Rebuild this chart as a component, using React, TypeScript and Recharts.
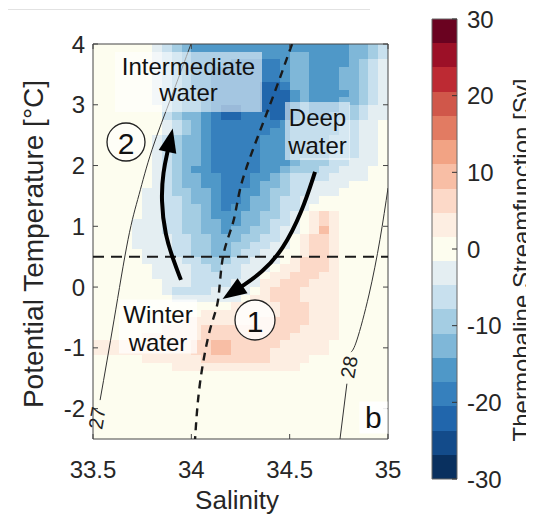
import React from "react";
import {
    ComposedChart,
    Line,
    XAxis,
    YAxis,
    ReferenceArea,
    ReferenceLine,
    ReferenceDot,
} from "recharts";

const FONT = '"Liberation Sans", Arial, Helvetica, sans-serif';
const AXIS_GREY = "#262626";

// streamfunction bands [Sv], 19 levels between -30 and 30
const LEVEL_EDGES = [
    -30, -26.84, -23.68, -20.53, -17.37, -14.21, -11.05, -7.89, -4.74, -1.58,
    1.58, 4.74, 7.89, 11.05, 14.21, 17.37, 20.53, 23.68, 26.84, 30,
];
const LEVEL_COLORS = [
    "#09305f", "#134b8a", "#2166ac", "#3680bd", "#4f98c8", "#7fb7d8", "#a4cde3",
    "#c8e0ee", "#e4eef2", "#fdfdef", "#fdeee2", "#fcd9c8", "#f8bea5", "#f2a384",
    "#e27b62", "#d0574a", "#bd2a33", "#9c1027", "#6a0220",
];
const CBAR_TICKS = [-30, -20, -10, 0, 10, 20, 30];

const X_TICKS = [33.5, 34, 34.5, 35];
const Y_TICKS = [-2, -1, 0, 1, 2, 3, 4];

// gridded field: salinity 33.5 -> 35 in 0.05 steps (columns),
// temperature 4 -> down in 0.125 steps (rows). rows below the last one are all neutral.
const SAL_START = 33.5;
const SAL_STEP = 0.05;
const TEMP_TOP = 4;
const TEMP_STEP = 0.125;
// '.' neutral band, a..g negative bands (light -> dark), A..C positive bands
const CODES: Record<string, number> = {
    ".": 9, a: 8, b: 7, c: 6, d: 5, e: 4, f: 3, g: 2, A: 10, B: 11, C: 12,
};
const FIELD = [
    "......abcdeeeeeeeeeeeeeeeeddcb",
    "......abcdeeeeeeeeeeddeeeeddcb",
    "......abcdeeeefffffeddeeeedcba",
    "......abcdeefffffffeddeeeddcba",
    "......abcdeefffffffeddeeeddcba",
    "......abcdeefffffggfddeeeddcba",
    "......abcddefffffgggedeeeedcba",
    "......abcddefffffgggedeeeddcba",
    ".......bcddefggffgggedeeedcbaa",
    ".......bcddefggfffggedeeddcbaa",
    ".......abcdefffffffedddddcbaa.",
    ".......abcdeffffffeedddddcbaa.",
    "......abcddefffffeeeddddccbaa.",
    "......abcddefffffeeeddddccbaa.",
    "......abcddefffffeeeddddccbaa.",
    "......abcddefffffeeedcccbbaaa.",
    "......abcdeefffffeedcccbbaaa..",
    "......abcddeefffeedcbbbbaaaa..",
    "......abcddeefffeddcbbaaaa....",
    ".....aabccddeffeedccbbaaa.....",
    ".....aabbcddeffeddcbbaa.......",
    ".....aabbccdefeeddcbba........",
    ".....aabbccdeeeddccba.ABA.....",
    "....aaabbccddeeddcbba.ABA.....",
    "....aaabbccddeddccbaa.ACA.....",
    "....aaaabbccdddccbba.ABBA.....",
    "....aaaabbccddccbbaa.ABBA.....",
    ".....aaabbccddcbbaa..ABBA.....",
    ".....aaaabbcccbbaaa.ABBBA.....",
    "......aaaabbcbbaaa.AABBBA.....",
    "......aaaabbbbbaa.AABBBAA.....",
    ".......aaabbbbaaaAABBBAAA.....",
    ".......abbbbaaaa.ABBBAAAA.....",
    "........aaaaaaa.AABBBAAAA.....",
    "..............AAAAABBBAAA.....",
    "...........AAAAAAAABBBAAA.....",
    ".........AAAAAAAABBBBBAAA.....",
    ".......AAAABBBBBBBBBBAAAA.....",
    ".....AAAAAABBBBBBBBBAAAAA.....",
    "AAAAAAAAAABBCCBBBBBAAAAA......",
    "AAAAAAAAAABBCCBBBBAAAAAA......",
    ".....AAAAAABBBBBBBAAAA........",
    "........AAAAAAAAAAAAA.........",
];

type Pt = { s: number; t: number };

// isopycnals 27 and 28
const ISO_27: Pt[] = [
    { s: 33.998, t: 4.0 },
    { s: 33.902, t: 3.16 },
    { s: 33.8, t: 2.26 },
    { s: 33.734, t: 1.52 },
    { s: 33.678, t: 0.78 },
    { s: 33.607, t: -0.54 },
    { s: 33.536, t: -1.86 },
];
const ISO_28_UPPER: Pt[] = [
    { s: 35.0, t: 1.63 },
    { s: 34.959, t: 0.78 },
    { s: 34.903, t: -0.13 },
    { s: 34.842, t: -0.87 },
    { s: 34.812, t: -1.07 },
];
const ISO_28_LOWER: Pt[] = [
    { s: 34.791, t: -1.59 },
    { s: 34.756, t: -2.5 },
];
// dashed salinity front
const FRONT: Pt[] = [
    { s: 34.512, t: 4.0 },
    { s: 34.415, t: 3.13 },
    { s: 34.313, t: 2.26 },
    { s: 34.247, t: 1.6 },
    { s: 34.212, t: 1.06 },
    { s: 34.161, t: 0.5 },
    { s: 34.136, t: -0.21 },
    { s: 34.095, t: -0.7 },
    { s: 34.044, t: -1.58 },
    { s: 34.019, t: -2.5 },
];
const T_REF = 0.5;

// pathways
const ARROW_DEEP: Pt[] = [
    { s: 34.629, t: 1.895 },
    { s: 34.563, t: 1.237 },
    { s: 34.466, t: 0.612 },
    { s: 34.359, t: 0.234 },
    { s: 34.252, t: 0.003 },
];
const ARROW_UP: Pt[] = [
    { s: 33.947, t: 0.118 },
    { s: 33.912, t: 0.414 },
    { s: 33.866, t: 0.859 },
    { s: 33.846, t: 1.434 },
    { s: 33.856, t: 1.895 },
    { s: 33.881, t: 2.257 },
];

// chart geometry
const W = 400;
const H = 511;
const M = { top: 36, right: 20, bottom: 40, left: 35 };
const Y_AXIS_W = 50;
const X_AXIS_H = 40;
const PLOT_W = W - M.left - M.right - Y_AXIS_W;
const PLOT_H = H - M.top - M.bottom - X_AXIS_H;
const PX_S = PLOT_W / 1.5;
const PX_T = PLOT_H / 6.5;

type Cell = { s1: number; s2: number; t1: number; t2: number; band: number };

function buildCells(): Cell[] {
    const cells: Cell[] = [];
    FIELD.forEach((row, j) => {
        const tTop = TEMP_TOP - j * TEMP_STEP;
        let i = 0;
        while (i < row.length) {
            let k = i;
            while (k + 1 < row.length && row[k + 1] === row[i]) k++;
            const band = CODES[row[i]];
            if (band !== 9) {
                cells.push({
                    s1: SAL_START + i * SAL_STEP,
                    s2: SAL_START + (k + 1) * SAL_STEP,
                    t1: tTop - TEMP_STEP,
                    t2: tTop,
                    band,
                });
            }
            i = k + 1;
        }
    });
    return cells;
}

const crispRect = (fill: string) => (p: any) => (
    <rect
        x={p.x}
        y={p.y}
        width={p.width}
        height={p.height}
        fill={fill}
        stroke="none"
        shapeRendering="crispEdges"
    />
);

function arrowHead(data: Pt[]) {
    return (props: any) => {
        const { cx, cy, index } = props;
        if (index !== data.length - 1 || cx == null) return <g key={`ah-${index}`} />;
        const a = data[data.length - 2];
        const b = data[data.length - 1];
        const dx = (b.s - a.s) * PX_S;
        const dy = -(b.t - a.t) * PX_T;
        const len = Math.hypot(dx, dy) || 1;
        const ux = dx / len;
        const uy = dy / len;
        const L = 22;
        const hw = 9;
        const bx = cx - ux * 2;
        const by = cy - uy * 2;
        return (
            <path
                key={`ah-${index}`}
                d={`M${cx + ux * L},${cy + uy * L} L${bx - uy * hw},${by + ux * hw} L${bx + uy * hw},${by - ux * hw} Z`}
                fill="#000"
            />
        );
    };
}

const textBox =
    (lines: string[], w: number, h: number, opacity: number, size: number, gap: number, dy = 0) =>
    (p: any) => {
        const { cx, cy } = p;
        return (
            <g>
                <rect x={cx - w / 2} y={cy - h / 2} width={w} height={h} fill="#fff" fillOpacity={opacity} />
                {lines.map((ln, i) => (
                    <text
                        key={i}
                        x={cx}
                        y={cy + dy + (i - (lines.length - 1) / 2) * gap}
                        textAnchor="middle"
                        dominantBaseline="central"
                        fontSize={size}
                        fontFamily={FONT}
                        fill="#111"
                    >
                        {ln}
                    </text>
                ))}
            </g>
        );
    };

const circled = (label: string, r: number, opacity: number) => (p: any) => (
    <g>
        <circle cx={p.cx} cy={p.cy} r={r} fill="#fff" fillOpacity={opacity} stroke="#222" strokeWidth={1.3} />
        <text
            x={p.cx}
            y={p.cy + 1}
            textAnchor="middle"
            dominantBaseline="central"
            fontSize={30}
            fontFamily={FONT}
            fill="#111"
        >
            {label}
        </text>
    </g>
);

const rotatedText = (label: string, size: number) => (p: any) => (
    <text
        x={p.cx}
        y={p.cy}
        transform={`rotate(-80 ${p.cx} ${p.cy})`}
        textAnchor="middle"
        dominantBaseline="central"
        fontSize={size}
        fontFamily={FONT}
        fill="#222"
    >
        {label}
    </text>
);

const AxisTitle = ({ px, py, text, vertical, size }: any) => (
    <text
        x={px}
        y={py}
        transform={vertical ? `rotate(-90 ${px} ${py})` : undefined}
        textAnchor="middle"
        dominantBaseline="central"
        fontSize={size}
        fontFamily={FONT}
        fill={AXIS_GREY}
    >
        {text}
    </text>
);

const tickStyle = { fontSize: 24, fill: AXIS_GREY, fontFamily: FONT };

function MainChart() {
    const cells = buildCells();
    const xTickLen = 5 / PX_T;
    const yTickLen = 5 / PX_S;
    return (
        <ComposedChart width={W} height={H} margin={M}>
            <XAxis
                type="number"
                dataKey="s"
                domain={[33.5, 35]}
                ticks={X_TICKS}
                interval={0}
                allowDataOverflow
                height={X_AXIS_H}
                tickLine={false}
                axisLine={false}
                tickSize={6}
                tickMargin={16}
                tick={tickStyle}
                label={<AxisTitle px={229} py={492} text="Salinity" size={26} />}
            />
            <YAxis
                type="number"
                dataKey="t"
                domain={[-2.5, 4]}
                ticks={Y_TICKS}
                interval={0}
                allowDataOverflow
                width={Y_AXIS_W}
                tickLine={false}
                axisLine={false}
                tickSize={6}
                tickMargin={2}
                tick={tickStyle}
                label={<AxisTitle px={25} py={236} text="Potential Temperature [°C]" vertical size={28} />}
            />

            <ReferenceArea x1={33.5} x2={35} y1={-2.5} y2={4} shape={crispRect(LEVEL_COLORS[9])} />
            {cells.map((c, i) => (
                <ReferenceArea
                    key={`c${i}`}
                    x1={c.s1}
                    x2={c.s2}
                    y1={c.t1}
                    y2={c.t2}
                    shape={crispRect(LEVEL_COLORS[c.band])}
                />
            ))}

            <ReferenceLine y={T_REF} stroke="#1a1a1a" strokeWidth={2} strokeDasharray="11 7" />

            <Line data={ISO_27} dataKey="t" type="natural" stroke="#333" strokeWidth={1} dot={false} activeDot={false} isAnimationActive={false} />
            <Line data={ISO_28_UPPER} dataKey="t" type="natural" stroke="#333" strokeWidth={1} dot={false} activeDot={false} isAnimationActive={false} />
            <Line data={ISO_28_LOWER} dataKey="t" type="linear" stroke="#333" strokeWidth={1} dot={false} activeDot={false} isAnimationActive={false} />
            <Line data={FRONT} dataKey="t" type="natural" stroke="#1a1a1a" strokeWidth={2.4} strokeDasharray="8 6" dot={false} activeDot={false} isAnimationActive={false} />
            <Line data={ARROW_DEEP} dataKey="t" type="basis" stroke="#000" strokeWidth={4} dot={arrowHead(ARROW_DEEP)} activeDot={false} isAnimationActive={false} />
            <Line data={ARROW_UP} dataKey="t" type="basis" stroke="#000" strokeWidth={4} dot={arrowHead(ARROW_UP)} activeDot={false} isAnimationActive={false} />

            <ReferenceDot x={33.9856} y={3.375} shape={textBox(["Intermediate", "water"], 147, 60, 0.55, 24, 26, -2)} />
            <ReferenceDot x={34.6415} y={2.568} shape={textBox(["Deep", "water"], 65, 58, 0.55, 24, 28)} />
            <ReferenceDot x={33.8305} y={-0.649} shape={textBox(["Winter", "water"], 78, 54, 0.7, 24, 28, 2)} />
            <ReferenceDot x={34.926} y={-2.146} shape={textBox(["b"], 28, 32, 0.9, 30, 0)} />
            <ReferenceDot x={34.3237} y={-0.542} shape={circled("1", 20, 0.8)} />
            <ReferenceDot x={33.6678} y={2.387} shape={circled("2", 19, 0.5)} />
            <ReferenceDot x={33.52} y={-2.154} shape={rotatedText("27", 20)} />
            <ReferenceDot x={34.802} y={-1.315} shape={rotatedText("28", 20)} />

            {X_TICKS.map((v) => (
                <ReferenceLine key={`xb${v}`} segment={[{ x: v, y: -2.5 }, { x: v, y: -2.5 + xTickLen }]} stroke="#444" />
            ))}
            {X_TICKS.map((v) => (
                <ReferenceLine key={`xt${v}`} segment={[{ x: v, y: 4 }, { x: v, y: 4 - xTickLen }]} stroke="#444" />
            ))}
            {Y_TICKS.map((v) => (
                <ReferenceLine key={`yl${v}`} segment={[{ x: 33.5, y: v }, { x: 33.5 + yTickLen, y: v }]} stroke="#444" />
            ))}
            {Y_TICKS.map((v) => (
                <ReferenceLine key={`yr${v}`} segment={[{ x: 35, y: v }, { x: 35 - yTickLen, y: v }]} stroke="#444" />
            ))}
            <ReferenceArea x1={33.5} x2={35} y1={-2.5} y2={4} fill="none" stroke="#444" strokeWidth={1} />
        </ComposedChart>
    );
}

function ColorBar() {
    const data = CBAR_TICKS.map((v) => ({ x: 0.5, v }));
    return (
        <ComposedChart width={112} height={519} margin={{ top: 19, right: 27, bottom: 40, left: 10 }} data={data}>
            <XAxis type="number" dataKey="x" domain={[0, 1]} hide />
            <YAxis
                type="number"
                dataKey="v"
                orientation="right"
                domain={[-30, 30]}
                ticks={CBAR_TICKS}
                interval={0}
                width={50}
                tickLine={false}
                axisLine={false}
                tickSize={6}
                tickMargin={4}
                tick={tickStyle}
                label={<AxisTitle px={99} py={260} text="Thermohaline Streamfunction [Sv]" vertical size={24} />}
            />
            <Line dataKey="v" stroke="none" dot={false} activeDot={false} isAnimationActive={false} />
            {LEVEL_COLORS.map((col, k) => (
                <ReferenceArea key={`lv${k}`} y1={LEVEL_EDGES[k]} y2={LEVEL_EDGES[k + 1]} shape={crispRect(col)} />
            ))}
            {CBAR_TICKS.map((v) => (
                <ReferenceLine key={`ct${v}`} segment={[{ x: 0.8, y: v }, { x: 1, y: v }]} stroke="#333" />
            ))}
            <ReferenceArea y1={-30} y2={30} fill="none" stroke="#666" strokeWidth={1} />
        </ComposedChart>
    );
}

export default function App() {
    return (
        <div style={{ position: "relative", width: 526, height: 511, background: "#fff" }}>
            <div style={{ position: "absolute", left: -8, top: 1, width: 370, height: 1, background: "#e2e2e2" }} />
            <div style={{ position: "absolute", left: 0, top: 0 }}>
                <MainChart />
            </div>
            <div style={{ position: "absolute", left: 414, top: -8 }}>
                <ColorBar />
            </div>
        </div>
    );
}
